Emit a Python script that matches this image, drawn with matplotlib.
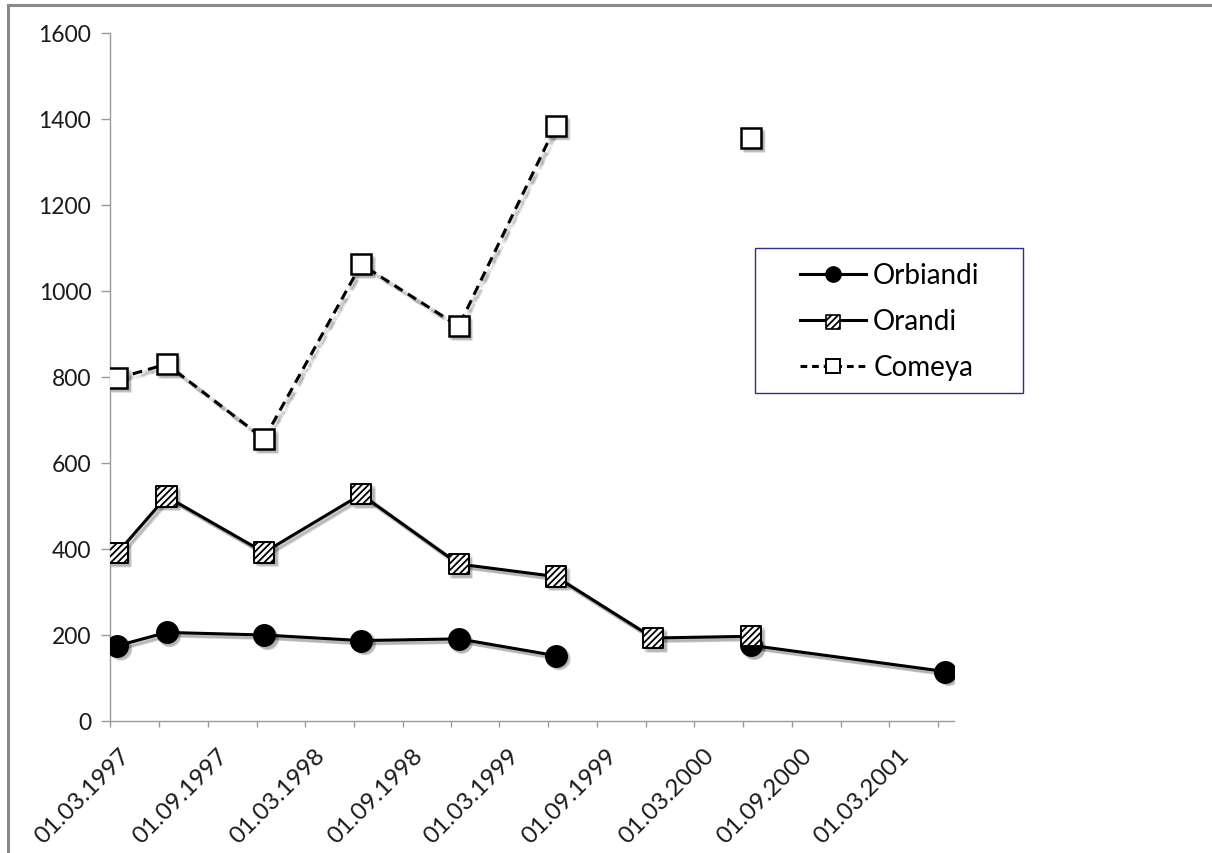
import numpy as np
import matplotlib
matplotlib.use("Agg")
import matplotlib.pyplot as plt
import matplotlib.dates as mdates
from matplotlib.transforms import ScaledTranslation
from matplotlib.lines import Line2D
from matplotlib.patches import Rectangle

plt.rcParams['font.family'] = ['Lato', 'DejaVu Sans']
plt.rcParams['hatch.linewidth'] = 1.3

# Sampling dates and series values (NaN = not sampled)
dates = np.array(["1997-03-15", "1997-06-15", "1997-12-15", "1998-06-15",
                  "1998-12-15", "1999-06-15", "1999-12-15", "2000-06-15",
                  "2001-06-15"], dtype="datetime64[D]")
orbiandi = [175, 206, 200, 187, 191, 152, np.nan, 176, 115]
orandi = [391, 522, 392, 527, 365, 336, 193, 197, np.nan]
comeya = [797, 830, 656, 1062, 918, 1384, np.nan, 1355, np.nan]

series_names = ["Orbiandi", "Orandi", "Comeya"]
y_ticks = [0, 200, 400, 600, 800, 1000, 1200, 1400, 1600]

W, H, DPI = 1212, 854, 100
fig = plt.figure(figsize=(W / DPI, H / DPI), dpi=DPI)
ax = fig.add_axes([110 / W, 1 - 722 / H, (954 - 110) / W, (722 - 34) / H])

x = mdates.date2num(dates)


def shadow(xv, yv, marker, ms, lw, ls, z):
    # soft drop shadow built from a few faint offset copies
    for off, extra, a in [(1.2, 1.5, 0.10), (2.0, 0.8, 0.12), (2.6, 0.0, 0.10)]:
        tr = ax.transData + ScaledTranslation(off / 72, -off / 72, fig.dpi_scale_trans)
        ax.plot(xv, yv, color="black", alpha=a, lw=lw + extra, ls=ls,
                marker=marker, ms=ms + extra, mec="none", mfc="black",
                transform=tr, zorder=z, solid_capstyle="round")


LW = 2.2
DASH = (0, (3.2, 2.0))

# Orbiandi: black circles, solid line
shadow(x, orbiandi, "o", 15.5, LW, "-", 1)
ax.plot(x, orbiandi, color="black", lw=LW, marker="o", ms=15.5,
        mfc="black", mec="black", zorder=3)

# Orandi: hatched squares, solid line
shadow(x, orandi, "s", 14.5, LW, "-", 1)
ax.plot(x, orandi, color="black", lw=LW, zorder=4)
ax.scatter(x, orandi, marker="s", s=14.5 ** 2, facecolor="white",
           edgecolor="black", linewidths=1.4, hatch="/////", zorder=5)

# Comeya: open squares, dashed line
shadow(x, comeya, "s", 14.5, LW, DASH, 1)
ax.plot(x, comeya, color="black", lw=LW, ls=DASH, marker="s", ms=14.5,
        mfc="white", mec="black", mew=1.8, zorder=6)

# Axes styling
axis_gray = "#9a9a9a"
for side in ["top", "right"]:
    ax.spines[side].set_visible(False)
for side in ["left", "bottom"]:
    ax.spines[side].set_color(axis_gray)
    ax.spines[side].set_linewidth(1.0)

ax.set_ylim(0, 1600)
ax.set_yticks(y_ticks)
ax.set_xlim(mdates.date2num(np.datetime64("1997-03-01")),
            mdates.date2num(np.datetime64("2001-07-01")))
ax.xaxis.set_major_locator(mdates.MonthLocator(bymonth=[3, 9], bymonthday=1))
ax.xaxis.set_minor_locator(mdates.MonthLocator(bymonth=[3, 6, 9, 12], bymonthday=1))
ax.xaxis.set_major_formatter(mdates.DateFormatter("%d.%m.%Y"))

ax.tick_params(axis="both", which="both", direction="out", color=axis_gray,
               width=1.0, labelcolor="#1a1a1a")
ax.tick_params(axis="y", length=6.5, pad=7, labelsize=16.5)
ax.tick_params(axis="x", which="both", length=4.5, pad=12, labelsize=17.5)

offset = ScaledTranslation(9 / DPI, 0, fig.dpi_scale_trans)
for lab in ax.get_xticklabels():
    lab.set_rotation(45)
    lab.set_ha("right")
    lab.set_va("top")
    lab.set_rotation_mode("anchor")
    lab.set_transform(lab.get_transform() + offset)

# Legend with a hand-drawn frame
h1 = Line2D([], [], color="black", lw=LW, marker="o", ms=11, mfc="black")
h2_line = Line2D([], [], color="black", lw=LW)
h2_mark = ax.scatter([], [], marker="s", s=10 ** 2, facecolor="white",
                     edgecolor="black", linewidths=1.2, hatch="/////")
h3 = Line2D([], [], color="black", lw=LW, ls=(0, (2.2, 1.6)), marker="s", ms=10.5,
            mfc="white", mec="black", mew=1.4)
leg = fig.legend([h1, (h2_line, h2_mark), h3], series_names,
                 loc="upper left", bbox_to_anchor=(781 / W, 1 - 244 / H),
                 frameon=False, fontsize=20, handlelength=2.37,
                 handletextpad=0.25, labelspacing=0.72, borderpad=0.2)
fig.add_artist(Rectangle((755 / W, 1 - 394 / H), (1023 - 755) / W, (394 - 249) / H,
                         transform=fig.transFigure, fill=False,
                         edgecolor="#2e2e8c", lw=1.0, zorder=10))

# Outer frame lines
fig.add_artist(Line2D([8 / W, 8 / W], [0, 1 - 6 / H], transform=fig.transFigure,
                      color="#8a8a8a", lw=2.2))
fig.add_artist(Line2D([8 / W, 1], [1 - 6 / H, 1 - 6 / H], transform=fig.transFigure,
                      color="#8a8a8a", lw=2.2))

fig.savefig("out.png", dpi=DPI)
